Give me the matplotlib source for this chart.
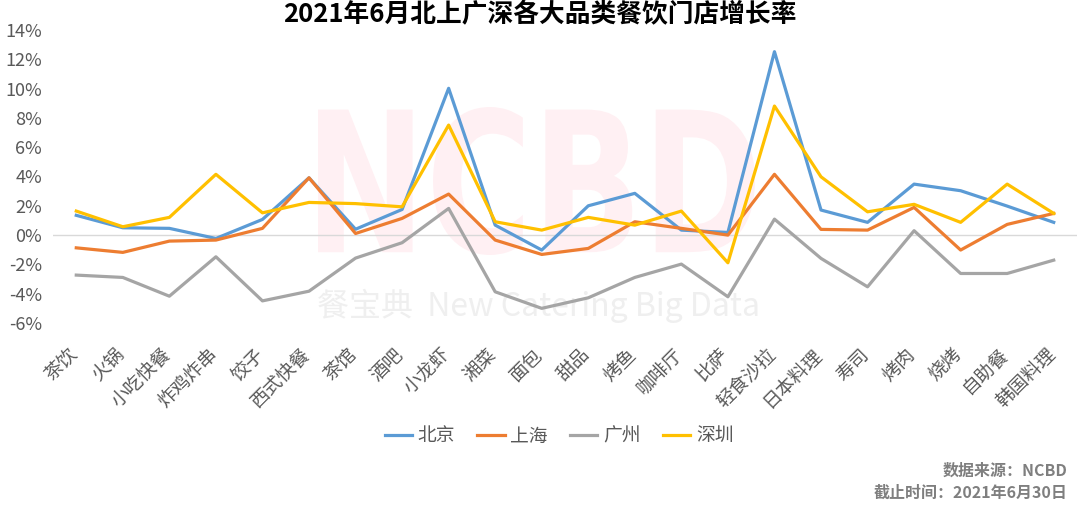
import matplotlib
matplotlib.use("Agg")
import matplotlib.pyplot as plt
from matplotlib.ticker import FuncFormatter
from matplotlib.textpath import TextPath
from matplotlib.patches import PathPatch
from matplotlib.font_manager import FontProperties
from matplotlib.transforms import Affine2D, ScaledTranslation

plt.rcParams['font.family'] = ['Noto Sans CJK SC', 'DejaVu Sans']

# data (growth rate, %)
categories = ["茶饮", "火锅", "小吃快餐", "炸鸡炸串", "饺子", "西式快餐", "茶馆", "酒吧",
              "小龙虾", "湘菜", "面包", "甜品", "烤鱼", "咖啡厅", "比萨", "轻食沙拉",
              "日本料理", "寿司", "烤肉", "烧烤", "自助餐", "韩国料理"]
beijing = [1.35, 0.5, 0.46, -0.23, 1.07, 3.91, 0.4, 1.75, 10.02, 0.68, -1.02, 2.0,
           2.85, 0.34, 0.18, 12.52, 1.71, 0.87, 3.48, 3.03, 1.98, 0.87]
shanghai = [-0.87, -1.18, -0.41, -0.34, 0.46, 3.91, 0.11, 1.14, 2.8, -0.34, -1.32, -0.91,
            0.91, 0.46, 0.0, 4.15, 0.39, 0.34, 1.89, -1.02, 0.73, 1.48]
guangzhou = [-2.73, -2.89, -4.17, -1.48, -4.49, -3.83, -1.57, -0.52, 1.82, -3.87, -5.0, -4.28,
             -2.89, -1.98, -4.21, 1.09, -1.59, -3.53, 0.3, -2.62, -2.62, -1.71]
shenzhen = [1.64, 0.57, 1.21, 4.15, 1.52, 2.23, 2.15, 1.93, 7.51, 0.91, 0.34, 1.21,
            0.68, 1.64, -1.89, 8.81, 3.98, 1.59, 2.1, 0.87, 3.48, 1.48]
series_names = ["北京", "上海", "广州", "深圳"]
colors = ["#5B9BD5", "#ED7D31", "#A5A5A5", "#FFC000"]

W, H = 1080, 505
fig = plt.figure(figsize=(W / 100, H / 100), dpi=100)
ax = fig.add_axes([53 / W, 1 - 323 / H, 1024 / W, 293 / H])

# pale "NCBD" watermark, stretched into its box (pixel coords)
tp = TextPath((0, 0), "NCBD", size=100, prop=FontProperties(family="DejaVu Sans", weight="bold"))
ext = tp.get_extents()
x0, x1, ytop, ybot = 318, 755, 107, 255
tr = (Affine2D().translate(-ext.x0, -ext.y0)
      .scale((x1 - x0) / ext.width, (ybot - ytop) / ext.height)
      .translate(x0, H - ybot))
wm = PathPatch(tr.transform_path(tp), facecolor="#fff0f3", edgecolor="none",
               transform=None, zorder=0, clip_on=False)
ax.add_artist(wm)
ax.text(0.474, 0.058, "餐宝典  New Catering Big Data", transform=ax.transAxes, ha="center",
        va="center", fontsize=23, color="#efefef", zorder=0)

x = range(len(categories))
for vals, name, c in zip([beijing, shanghai, guangzhou, shenzhen], series_names, colors):
    ax.plot(x, vals, color=c, lw=2.3, label=name, zorder=3)

ax.axhline(0, color="#d9d9d9", lw=1, zorder=1)
ax.set_xlim(-0.5, len(categories) - 0.5)
ax.set_ylim(-6, 14)
ax.set_yticks(range(-6, 15, 2))
ax.yaxis.set_major_formatter(FuncFormatter(lambda v, p: f"{v:.0f}%"))
ax.set_xticks(list(x))
ax.set_xticklabels(categories, rotation=45, ha="right", va="top", rotation_mode="anchor")
ax.tick_params(axis="both", length=0, colors="#595959")
ax.tick_params(axis="y", labelsize=13, pad=8)
ax.tick_params(axis="x", labelsize=13.5, pad=8)
shift = ScaledTranslation(-9 / 100, -10 / 100, fig.dpi_scale_trans)
for lab in ax.get_xticklabels():
    lab.set_transform(lab.get_transform() + shift)
for s in ax.spines.values():
    s.set_visible(False)

leg = fig.legend(loc="center", bbox_to_anchor=(559 / W, 1 - 436 / H), ncol=4,
                 frameon=False, fontsize=13.5, handlelength=1.45, columnspacing=1.2,
                 handletextpad=0.3)
for t in leg.get_texts():
    t.set_color("#595959")

fig.text(0.5, 1 - 15 / H, "2021年6月北上广深各大品类餐饮门店增长率", ha="center",
         va="center", fontsize=18.5, fontweight="bold", color="black")
fig.text(1068 / W, 1 - 471 / H, "数据来源：NCBD", ha="right", va="center",
         fontsize=11.5, fontweight="bold", color="#7f7f7f")
fig.text(1068 / W, 1 - 493 / H, "截止时间：2021年6月30日", ha="right", va="center",
         fontsize=11.5, fontweight="bold", color="#7f7f7f")

fig.savefig("out.png", dpi=100)
